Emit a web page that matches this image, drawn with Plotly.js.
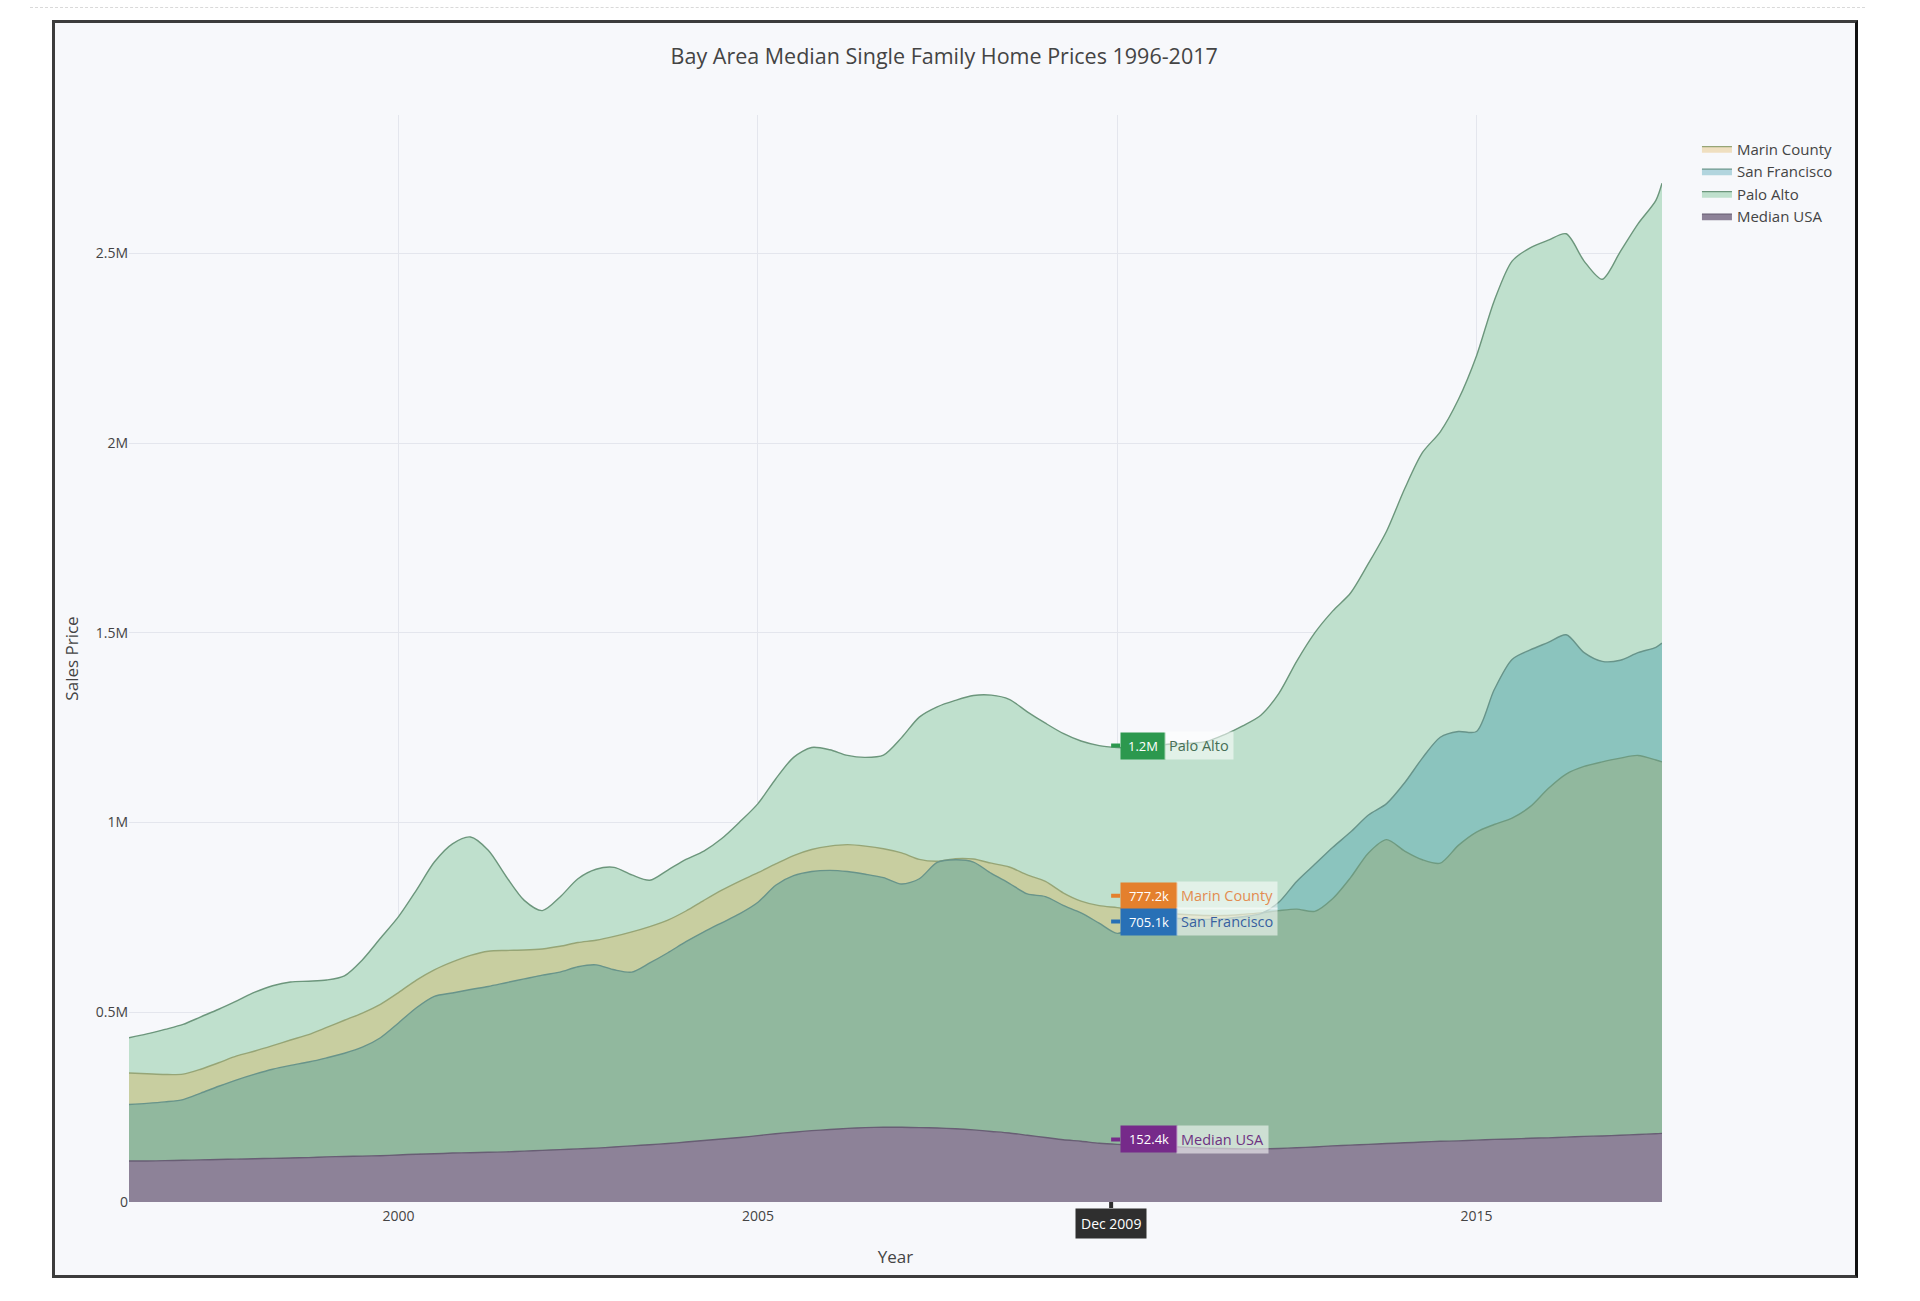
<!DOCTYPE html>
<html>
<head>
<meta charset="utf-8">
<script src="https://cdn.plot.ly/plotly-3.0.1.min.js"></script>
<style>
  html, body { margin:0; padding:0; background:#ffffff; width:1920px; height:1301px; overflow:hidden; }
  #dash { position:absolute; left:30px; top:7px; width:1835px; border-top:1px dashed #d9d9d9; }
  #frame { position:absolute; left:52px; top:20px; width:1800px; height:1252px;
           border:3px solid #3c3c3c; border-right:3px solid #111; background:#f7f8fb; }
  #chart { width:1800px; height:1252px; }
</style>
</head>
<body>
<div id="dash"></div>
<div id="frame"><div id="chart"></div></div>
<script>
// ---- Data (values in millions of USD), quarterly readings from the chart ----
const dates = [
 '1996-04','1996-07','1996-10',
 '1997-01','1997-04','1997-07','1997-10',
 '1998-01','1998-04','1998-07','1998-10',
 '1999-01','1999-04','1999-07','1999-10',
 '2000-01','2000-04','2000-07','2000-10',
 '2001-01','2001-04','2001-07','2001-10',
 '2002-01','2002-04','2002-07','2002-10',
 '2003-01','2003-04','2003-07','2003-10',
 '2004-01','2004-04','2004-07','2004-10',
 '2005-01','2005-04','2005-07','2005-10',
 '2006-01','2006-04','2006-07','2006-10',
 '2007-01','2007-04','2007-07','2007-10',
 '2008-01','2008-04','2008-07','2008-10',
 '2009-01','2009-04','2009-07','2009-10',
 '2010-01','2010-04','2010-07','2010-10',
 '2011-01','2011-04','2011-07','2011-10',
 '2012-01','2012-04','2012-07','2012-10',
 '2013-01','2013-04','2013-07','2013-10',
 '2014-01','2014-04','2014-07','2014-10',
 '2015-01','2015-04','2015-07','2015-10',
 '2016-01','2016-04','2016-07','2016-10',
 '2017-01','2017-04','2017-07','2017-08'
];

const paloAlto = [
 0.433,0.443,0.455,
 0.468,0.488,0.508,0.530,
 0.553,0.570,0.580,0.582,
 0.585,0.596,0.638,0.695,
 0.752,0.822,0.896,0.944,
 0.962,0.927,0.858,0.795,
 0.768,0.804,0.852,0.877,
 0.882,0.862,0.848,0.875,
 0.903,0.925,0.958,1.002,
 1.050,1.115,1.172,1.198,
 1.192,1.177,1.172,1.178,
 1.224,1.278,1.305,1.322,
 1.335,1.336,1.325,1.292,
 1.262,1.235,1.215,1.203,
 1.198,1.196,1.202,1.207,
 1.209,1.214,1.232,1.255,
 1.283,1.340,1.425,1.500,
 1.558,1.605,1.683,1.768,
 1.880,1.975,2.030,2.115,
 2.230,2.375,2.480,2.515,
 2.535,2.552,2.480,2.432,
 2.505,2.578,2.640,2.685
];

const marinCounty = [
 0.340,0.338,0.336,
 0.337,0.350,0.367,0.385,
 0.398,0.412,0.427,0.441,
 0.460,0.479,0.498,0.521,
 0.552,0.585,0.612,0.633,
 0.650,0.661,0.663,0.664,
 0.667,0.674,0.684,0.690,
 0.700,0.712,0.726,0.743,
 0.767,0.795,0.822,0.846,
 0.868,0.891,0.913,0.929,
 0.938,0.942,0.938,0.931,
 0.920,0.903,0.898,0.905,
 0.904,0.893,0.883,0.862,
 0.845,0.815,0.793,0.781,
 0.776,0.770,0.764,0.760,
 0.757,0.755,0.755,0.758,
 0.762,0.768,0.772,0.766,
 0.800,0.855,0.920,0.955,
 0.925,0.902,0.893,0.940,
 0.975,0.995,1.012,1.042,
 1.090,1.128,1.148,1.160,
 1.170,1.177,1.165,1.160
];

const sanFrancisco = [
 0.257,0.260,0.264,
 0.270,0.287,0.305,0.322,
 0.337,0.350,0.360,0.369,
 0.380,0.392,0.408,0.433,
 0.472,0.512,0.542,0.551,
 0.560,0.568,0.578,0.588,
 0.598,0.606,0.620,0.625,
 0.612,0.606,0.630,0.657,
 0.686,0.712,0.736,0.760,
 0.790,0.835,0.860,0.871,
 0.874,0.871,0.864,0.855,
 0.838,0.852,0.895,0.902,
 0.896,0.866,0.840,0.812,
 0.805,0.782,0.762,0.735,
 0.708,0.725,0.742,0.748,
 0.746,0.745,0.747,0.752,
 0.760,0.790,0.845,0.890,
 0.935,0.975,1.020,1.050,
 1.105,1.170,1.225,1.240,
 1.240,1.350,1.430,1.455,
 1.475,1.495,1.448,1.425,
 1.428,1.448,1.462,1.473
];

const medianUSA = [
 0.108,0.108,0.109,
 0.110,0.111,0.112,0.113,
 0.114,0.115,0.116,0.117,
 0.119,0.120,0.121,0.122,
 0.124,0.126,0.127,0.129,
 0.130,0.131,0.132,0.134,
 0.136,0.138,0.140,0.142,
 0.145,0.148,0.151,0.154,
 0.158,0.162,0.166,0.170,
 0.175,0.180,0.184,0.188,
 0.191,0.194,0.196,0.197,
 0.197,0.196,0.195,0.193,
 0.190,0.186,0.182,0.176,
 0.170,0.164,0.160,0.155,
 0.152,0.150,0.148,0.146,
 0.144,0.142,0.141,0.140,
 0.140,0.141,0.143,0.145,
 0.148,0.150,0.152,0.154,
 0.156,0.158,0.160,0.161,
 0.163,0.165,0.166,0.168,
 0.169,0.171,0.173,0.174,
 0.176,0.178,0.180,0.181
];

const yTickVals = [0, 0.5, 1, 1.5, 2, 2.5];
const yTickText = ['0', '0.5M', '1M', '1.5M', '2M', '2.5M'];

// Hover snapshot shown in the picture (Dec 2009)
const hoverDate = '2009-12-01';
const hoverDateText = 'Dec 2009';
const hoverNames  = ['Palo Alto', 'Marin County', 'San Francisco', 'Median USA'];
const hoverValues = ['1.2M', '777.2k', '705.1k', '152.4k'];

// ---- Styles ----
const FONT = '"Open Sans", verdana, arial, sans-serif';
const hoverStyle = [
  {box:'rgb(44,152,78)',  txt:'rgb(70,110,85)',  y:1.203, w:38},
  {box:'rgb(228,128,45)', txt:'rgb(226,140,80)', y:0.807, w:50},
  {box:'rgb(40,112,182)', txt:'rgb(55,95,160)',  y:0.739, w:50},
  {box:'rgb(118,42,138)', txt:'rgb(110,50,130)', y:0.165, w:50}
];

const spline = {shape:'spline', smoothing:0.8};

const traces = [
  {name:'Palo Alto', x:dates, y:paloAlto, type:'scatter', mode:'lines', fill:'tozeroy',
   fillcolor:'rgb(191,224,205)', line:Object.assign({color:'rgb(108,150,124)', width:1.4}, spline),
   legendrank:3},
  {name:'Marin County', x:dates, y:marinCounty, type:'scatter', mode:'lines', fill:'tozeroy',
   fillcolor:'rgba(221,167,55,0.3)', line:Object.assign({color:'rgb(150,165,118)', width:1.4}, spline),
   legendrank:1},
  {name:'San Francisco', x:dates, y:sanFrancisco, type:'scatter', mode:'lines', fill:'tozeroy',
   fillcolor:'rgba(21,131,155,0.3)', line:Object.assign({color:'rgb(104,148,138)', width:1.4}, spline),
   legendrank:2},
  {name:'Median USA', x:dates, y:medianUSA, type:'scatter', mode:'lines', fill:'tozeroy',
   fillcolor:'rgb(141,130,152)', line:Object.assign({color:'rgb(104,94,116)', width:1.4}, spline),
   legendrank:4}
];

const annotations = [];
hoverNames.forEach((nm, i) => {
  const s = hoverStyle[i];
  annotations.push({
    x: hoverDate, y: s.y, xref:'x', yref:'y',
    text: hoverValues[i], showarrow:true, ax:9, ay:0, xanchor:'left', yanchor:'middle',
    arrowhead:0, arrowwidth:4, arrowcolor:s.box,
    bgcolor:s.box, borderpad:4, width:s.w - 2,
    font:{size:13, color:'#ffffff', family:FONT}
  });
  annotations.push({
    x: hoverDate, y: s.y, xref:'x', yref:'y',
    text: nm, showarrow:false, xanchor:'left', yanchor:'middle',
    xshift: 9 + s.w + 6, bgcolor:'rgba(255,255,255,0.55)', borderpad:4,
    font:{size:14.5, color:s.txt, family:FONT}
  });
});
annotations.push({
  x: hoverDate, y: 0, xref:'x', yref:'paper',
  text: hoverDateText, showarrow:true, ax:0, ay:21, arrowhead:0, arrowwidth:4, arrowcolor:'#2f2f2f',
  bgcolor:'#2f2f2f', borderpad:5,
  font:{size:14, color:'#ffffff', family:FONT}
});

const layout = {
  width:1800, height:1252,
  paper_bgcolor:'#f7f8fb', plot_bgcolor:'#f7f8fb',
  margin:{l:74, r:193, t:92, b:73},
  font:{family:FONT, color:'#444', size:14},
  title:{text:'Bay Area Median Single Family Home Prices 1996-2017',
         x:0.494, xanchor:'center', y:1 - 33/1252, yanchor:'middle',
         font:{size:21.5, color:'#444'}},
  xaxis:{type:'date', range:['1996-04-01','2017-08-01'], dtick:'M60', tick0:'2000-01-01',
         tickformat:'%Y', gridcolor:'#e4e6ed', zeroline:false, showline:false, ticks:'',
         ticklabelstandoff:4,
         tickfont:{size:14, color:'#444'},
         title:{text:'Year', font:{size:17, color:'#444'}}},
  yaxis:{range:[0, 2.865], tickvals:yTickVals, ticktext:yTickText,
         gridcolor:'#e4e6ed', zeroline:false, showline:false, ticks:'',
         tickfont:{size:14, color:'#444'},
         title:{text:'Sales Price', font:{size:17, color:'#444'}, standoff:12}},
  legend:{x:1.0228, y:0.984, xanchor:'left', yanchor:'top', bgcolor:'rgba(0,0,0,0)',
          font:{size:15, color:'#444'}},
  showlegend:true,
  annotations: annotations
};

Plotly.newPlot('chart', traces, layout, {displayModeBar:false, staticPlot:true});
</script>
</body>
</html>
